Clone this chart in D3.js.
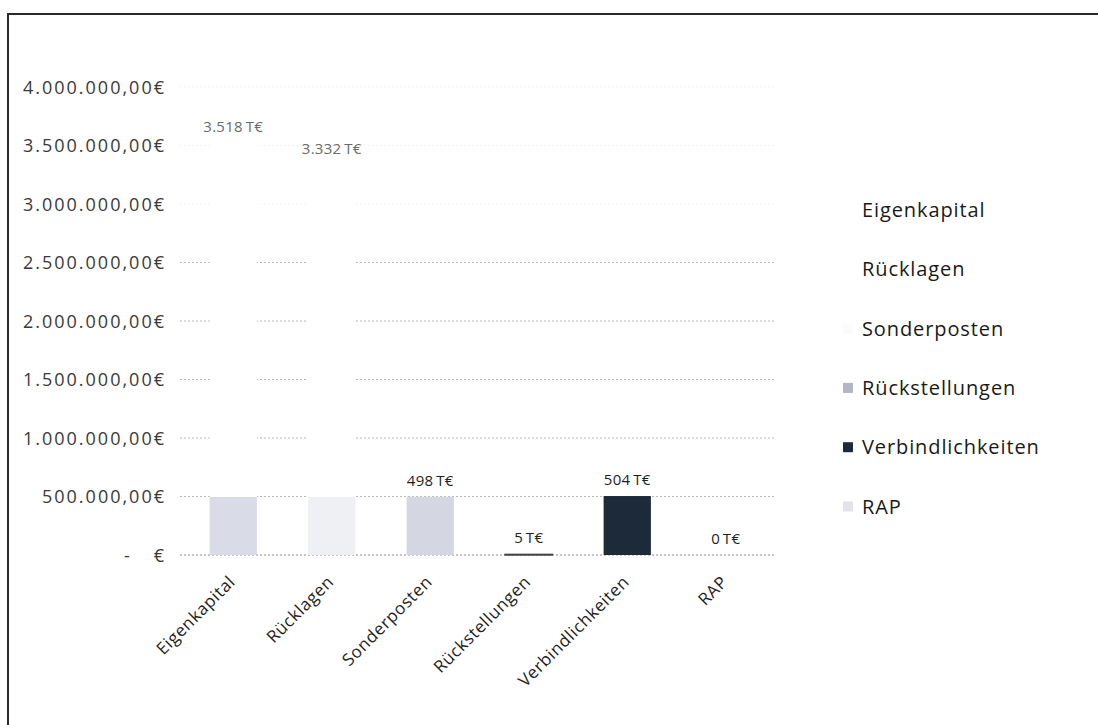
<!DOCTYPE html>
<html><head><meta charset="utf-8">
<script src="https://cdn.jsdelivr.net/npm/d3@7"></script>
<style>
body{margin:0;background:#fff;}
svg{display:block;font-family:"Open Sans",sans-serif;}
</style></head>
<body><svg id="c" width="1098" height="725"></svg>
<script>
const categories = ["Eigenkapital","Rücklagen","Sonderposten","Rückstellungen","Verbindlichkeiten","RAP"];
const values = [3518000, 3332000, 498000, 5000, 504000, 0];
const yTicks = [0,500000,1000000,1500000,2000000,2500000,3000000,3500000,4000000];
const legendLabels = ["Eigenkapital","Rücklagen","Sonderposten","Rückstellungen","Verbindlichkeiten","RAP"];

const barColors = ["#d9dce6","#eef0f3","#d4d7e1","#9da2b2","#1d2a3a","#e6e8ed"];
const legendColors = ["#ffffff","#ffffff","#fbfbfc","#b1b5c4","#1d2a3a","#e2e4ea"];

const loc = d3.formatLocale({decimal:",", thousands:".", grouping:[3], currency:["","€"]});
const fTick = loc.format(",.2f");
const fK = loc.format(",.0f");

const svg = d3.select("#c");
// frame
svg.append("rect").attr("x",8).attr("y",14).attr("width",1200).attr("height",800)
  .attr("fill","none").attr("stroke","#2a2a2a").attr("stroke-width",2);

const y = d3.scaleLinear().domain([0,4000000]).range([555,87]);
const x = d3.scaleBand().domain(categories).range([184,775]).paddingInner(0.52).paddingOuter(0.26);

// gridlines (upper ones faded out in the scan)
svg.append("g").selectAll("line").data(yTicks).join("line")
  .attr("x1",180).attr("x2",776).attr("y1",d=>y(d)).attr("y2",d=>y(d))
  .attr("stroke",d=>d===0?"#8a8a8a":(d>2500000?"#f4f4f4":"#b8b8b8")).attr("stroke-width",1)
  .attr("stroke-dasharray","2,2");

// y axis labels
const yAxis = d3.axisLeft(y).tickValues(yTicks).tickSize(0).tickPadding(0)
  .tickFormat(d=> d===0 ? "-\u2002\u2002€" : fTick(d)+"€");
const gy = svg.append("g").attr("transform","translate(166,0)").call(yAxis);
gy.select(".domain").remove();
gy.selectAll("text").attr("font-family","Open Sans").attr("font-size",18)
  .attr("letter-spacing",2.0).attr("fill","#3a3a3a").attr("dy","0.35em").style("white-space","pre");

// gradients for tall faded bars
const defs = svg.append("defs");
categories.forEach((c,i)=>{
  const g = defs.append("linearGradient").attr("id","g"+i).attr("gradientUnits","userSpaceOnUse")
    .attr("x1",0).attr("x2",0).attr("y1",y(0)).attr("y2",y(4000000));
  const cut = 500000/4000000;
  g.append("stop").attr("offset",0).attr("stop-color",barColors[i]);
  g.append("stop").attr("offset",cut).attr("stop-color",barColors[i]);
  g.append("stop").attr("offset",cut).attr("stop-color","#ffffff");
  g.append("stop").attr("offset",1).attr("stop-color","#ffffff");
});

// bars
svg.append("g").selectAll("rect").data(values).join("rect")
  .attr("x",(d,i)=>x(categories[i])).attr("width",x.bandwidth())
  .attr("y",d=>y(d)).attr("height",d=>y(0)-y(d))
  .attr("fill",(d,i)=> d>1000000 ? `url(#g${i})` : barColors[i])
  .attr("stroke",(d,i)=> i===3 ? "#444" : "none").attr("stroke-width",1.5);

// data labels
svg.append("g").selectAll("text").data(values).join("text")
  .attr("x",(d,i)=>x(categories[i])+x.bandwidth()/2)
  .attr("y",d=>y(d)-11)
  .attr("text-anchor","middle").attr("font-size",15).attr("letter-spacing",0.3)
  .attr("fill",d=> d>1000000 ? "#6a6a6a" : "#1e1e1e")
  .text(d=>fK(d/1000)+"\u2009T€");

// x labels
svg.append("g").selectAll("text").data(categories).join("text")
  .attr("transform",d=>`translate(${x(d)+x.bandwidth()/2+3},${583}) rotate(-45)`)
  .attr("text-anchor","end").attr("font-size",17).attr("letter-spacing",0.6)
  .attr("fill","#1e1e1e").text(d=>d);

// legend
const lg = svg.append("g");
legendLabels.forEach((t,i)=>{
  const yy = 217 + i*59.3;
  lg.append("rect").attr("x",843).attr("y",yy-12).attr("width",10).attr("height",10).attr("fill",legendColors[i]);
  lg.append("text").attr("x",862).attr("y",yy).attr("font-size",20).attr("letter-spacing",0.9)
    .attr("fill","#1a1a1a").text(t);
});
</script></body></html>
